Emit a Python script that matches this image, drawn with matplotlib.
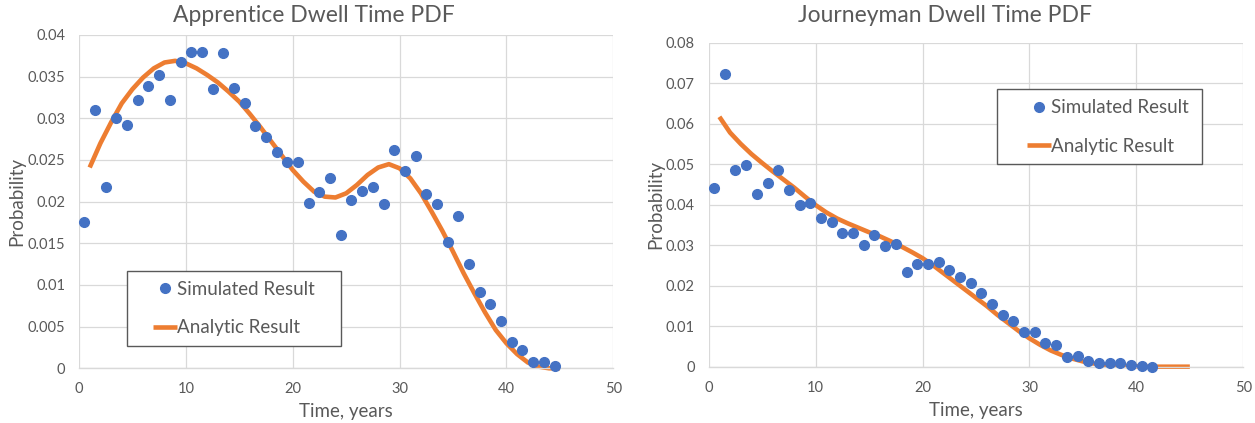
import matplotlib
matplotlib.use("Agg")
import matplotlib.pyplot as plt
from matplotlib.ticker import FuncFormatter, MultipleLocator
from matplotlib.patches import Rectangle

plt.rcParams['font.family'] = ['Lato', 'DejaVu Sans']

# ---------------- data ----------------
sim_t = [i + 0.5 for i in range(45)]

app_sim = [0.0175, 0.0310, 0.0218, 0.0300, 0.0292, 0.0322, 0.0339, 0.0352, 0.0322, 0.0368,
           0.0379, 0.0379, 0.0335, 0.0378, 0.0336, 0.0318, 0.0291, 0.0278, 0.0259, 0.0247,
           0.0247, 0.0198, 0.0211, 0.0228, 0.0160, 0.0202, 0.0213, 0.0218, 0.0197, 0.0262,
           0.0237, 0.0255, 0.0209, 0.0197, 0.0152, 0.0183, 0.0125, 0.0092, 0.0077, 0.0057,
           0.0032, 0.0022, 0.0007, 0.0008, 0.0003]

ana_t = list(range(1, 46))
app_ana = [0.0241, 0.0270, 0.0295, 0.0318, 0.0335, 0.0349, 0.0360, 0.0367, 0.0369, 0.0366,
           0.0360, 0.0352, 0.0343, 0.0332, 0.0320, 0.0305, 0.0289, 0.0272, 0.0255, 0.0238,
           0.0224, 0.0212, 0.0206, 0.0205, 0.0210, 0.0220, 0.0232, 0.0241, 0.0245, 0.0240,
           0.0228, 0.0210, 0.0188, 0.0165, 0.0140, 0.0114, 0.0090, 0.0067, 0.0046, 0.0030,
           0.0017, 0.0007, 0.0002, 0.0000, 0.0000]

jour_t = [i + 0.5 for i in range(42)]
jour_sim = [0.0440, 0.0723, 0.0486, 0.0498, 0.0426, 0.0453, 0.0486, 0.0437, 0.0399, 0.0405,
            0.0368, 0.0357, 0.0329, 0.0331, 0.0300, 0.0324, 0.0298, 0.0304, 0.0235, 0.0253,
            0.0254, 0.0259, 0.0239, 0.0221, 0.0207, 0.0181, 0.0154, 0.0128, 0.0114, 0.0085,
            0.0086, 0.0058, 0.0053, 0.0024, 0.0026, 0.0015, 0.0009, 0.0008, 0.0008, 0.0004,
            0.0001, 0.0000]

jour_ana = [0.0617, 0.0578, 0.0550, 0.0525, 0.0503, 0.0482, 0.0462, 0.0442, 0.0420, 0.0399,
            0.0381, 0.0366, 0.0354, 0.0343, 0.0332, 0.0322, 0.0310, 0.0297, 0.0283, 0.0268,
            0.0250, 0.0230, 0.0210, 0.0190, 0.0170, 0.0150, 0.0128, 0.0108, 0.0088, 0.0070,
            0.0054, 0.0040, 0.0029, 0.0020, 0.0013, 0.0008, 0.0005, 0.0003, 0.0002, 0.0001,
            0.0000, 0.0000, 0.0000, 0.0000, 0.0000]

titles = ["Apprentice Dwell Time PDF", "Journeyman Dwell Time PDF"]
xlabel = "Time, years"
ylabel = "Probability"
labels = ["Simulated Result", "Analytic Result"]

# ---------------- style ----------------
BLUE = "#4472C4"
ORANGE = "#ED7D31"
TXT = "#595959"
GRID = "#D9D9D9"

W, H = 1255, 423
fig = plt.figure(figsize=(W / 100, H / 100), dpi=100)

def px_axes(x0, x1, y0, y1):
    return fig.add_axes([x0 / W, 1 - y1 / H, (x1 - x0) / W, (y1 - y0) / H])

ax1 = px_axes(79, 613.3, 35, 368.3)
ax2 = px_axes(708.7, 1243.3, 42.7, 366.7)

def fmt(v, pos):
    s = ("%.3f" % v).rstrip('0').rstrip('.')
    return s if s else "0"

def style(ax, ymax, ystep):
    ax.set_xlim(0, 50)
    ax.set_ylim(0, ymax)
    ax.xaxis.set_major_locator(MultipleLocator(10))
    ax.yaxis.set_major_locator(MultipleLocator(ystep))
    ax.yaxis.set_major_formatter(FuncFormatter(fmt))
    for s in ax.spines.values():
        s.set_visible(False)
    ax.spines['bottom'].set_visible(True)
    ax.spines['bottom'].set_color(GRID)
    ax.spines['bottom'].set_linewidth(1.0)
    ax.grid(True, color=GRID, linewidth=0.9)
    ax.set_axisbelow(True)
    ax.tick_params(length=0, labelsize=10.5, colors=TXT)
    ax.tick_params(axis='y', pad=10)
    ax.tick_params(axis='x', pad=10)

style(ax1, 0.04, 0.005)
style(ax2, 0.08, 0.01)

for ax, st, sv, av in [(ax1, sim_t, app_sim, app_ana), (ax2, jour_t, jour_sim, jour_ana)]:
    ax.plot(st, sv, 'o', color=BLUE, markersize=7, label=labels[0], zorder=3, clip_on=False)
    ax.plot(ana_t, av, '-', color=ORANGE, linewidth=3.3, label=labels[1], zorder=2,
            solid_capstyle='butt', clip_on=False)
    ax.set_xlabel(xlabel, fontsize=13.5, color=TXT)
    ax.set_ylabel(ylabel, fontsize=13.5, color=TXT)

ax1.xaxis.set_label_coords(0.5, -0.103)
ax1.yaxis.set_label_coords(-0.100, 0.5)
ax2.xaxis.set_label_coords(0.5, -0.110)
ax2.yaxis.set_label_coords(-0.083, 0.5)

fig.text(314 / W, 1 - 16 / H, titles[0], ha='center', va='center', fontsize=16.5, color=TXT)
fig.text(945 / W, 1 - 16 / H, titles[1], ha='center', va='center', fontsize=16.5, color=TXT)

# legends: (box x0, y0, x1, y1), (handle left x, rows center y) in pixels
for ax, (bx0, by0, bx1, by1), (hx, hy) in [
        (ax1, (126.7, 270.7, 340.7, 346.0), (153.0, 308.5)),
        (ax2, (997.3, 89.3, 1202.3, 164.0), (1026.7, 127.0))]:
    rect = Rectangle((bx0 / W, 1 - by1 / H), (bx1 - bx0) / W, (by1 - by0) / H,
                     transform=fig.transFigure, facecolor='white', edgecolor="#595959",
                     linewidth=1.0, zorder=4, clip_on=False)
    ax.add_artist(rect)
    leg = ax.legend(loc='center left', bbox_to_anchor=(hx / W, 1 - hy / H),
                    bbox_transform=fig.transFigure, fontsize=13.5, frameon=False,
                    handlelength=1.3, handletextpad=0.0, labelspacing=1.15, borderpad=0.0,
                    borderaxespad=0.0, labelcolor=TXT)
    leg.set_zorder(5)

fig.savefig("out.png", dpi=100)
